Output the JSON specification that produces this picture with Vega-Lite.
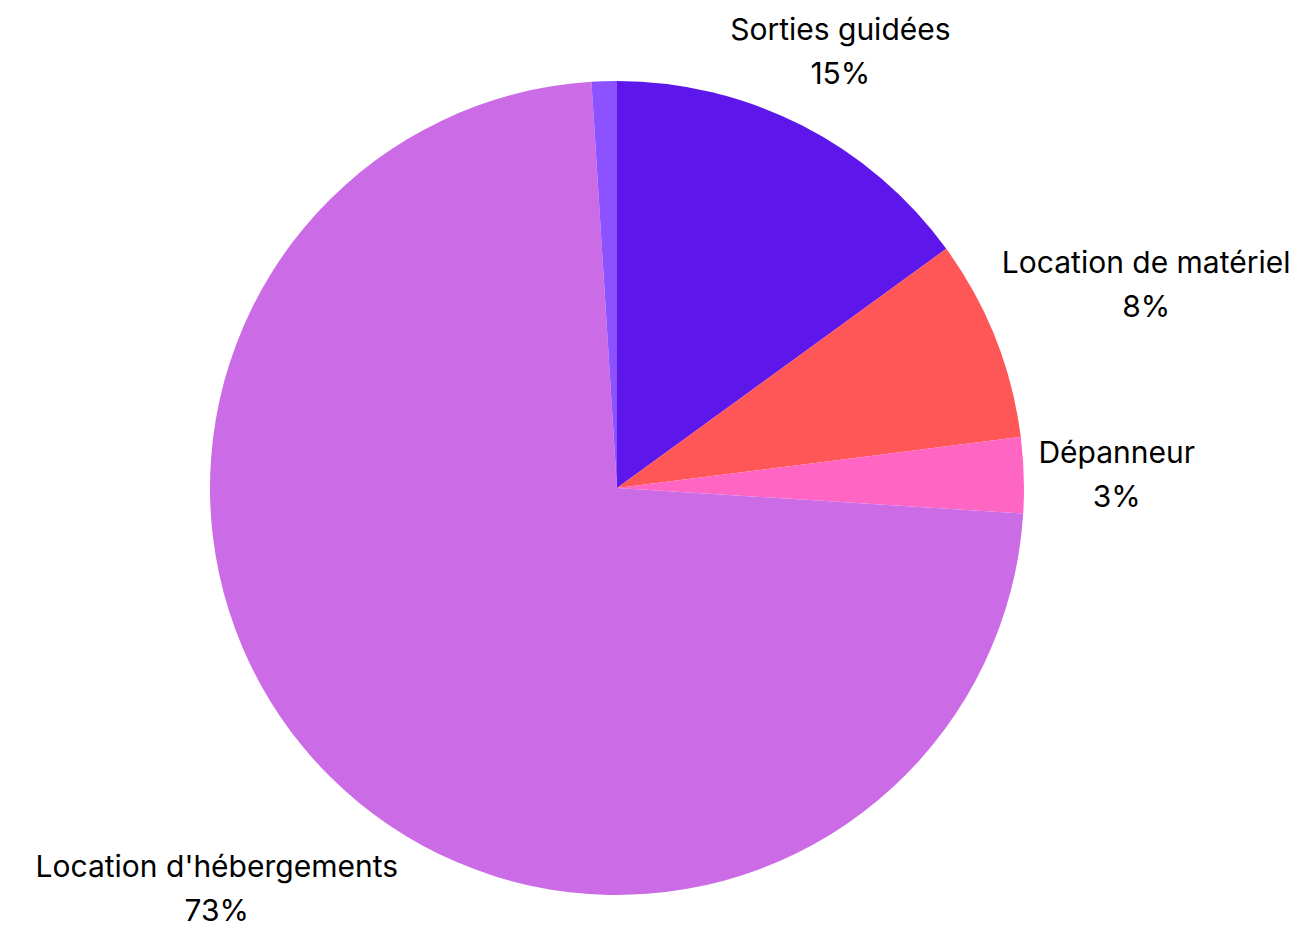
{
  "$schema": "https://vega.github.io/schema/vega-lite/v6.json",
  "autosize": {"type": "none"},
  "padding": {"left": 0, "top": 50, "right": 81, "bottom": 0},
  "width": 1234,
  "height": 876,
  "background": "#ffffff",
  "view": {"stroke": null},
  "data": {
    "values": [
      {"category": "Sorties guidées", "value": 15, "rank": 1},
      {"category": "Location de matériel", "value": 8, "rank": 2},
      {"category": "Dépanneur", "value": 3, "rank": 3},
      {"category": "Location d'hébergements", "value": 73, "rank": 4},
      {"category": "Autre", "value": 1, "rank": 5}
    ]
  },
  "transform": [
    {"calculate": "[datum.category, datum.value + '%']", "as": "label"}
  ],
  "encoding": {
    "theta": {"field": "value", "type": "quantitative", "stack": true},
    "order": {"field": "rank", "type": "quantitative"}
  },
  "layer": [
    {
      "mark": {"type": "arc", "outerRadius": 407, "stroke": null, "clip": false},
      "encoding": {
        "color": {
          "field": "category",
          "type": "nominal",
          "legend": null,
          "scale": {
            "domain": ["Sorties guidées", "Location de matériel", "Dépanneur", "Location d'hébergements", "Autre"],
            "range": ["#5E17EB", "#FF5757", "#FF66C4", "#CB6CE6", "#8C52FF"]
          }
        }
      }
    },
    {
      "mark": {"type": "text", "radius": 492, "dy": -19, "font": "Inter", "fontSize": 30, "lineHeight": 44, "color": "#000000", "align": "center", "baseline": "middle", "clip": false},
      "encoding": {
        "text": {"condition": {"test": "datum.category === 'Sorties guidées'", "field": "label"}, "value": ""}
      }
    },
    {
      "mark": {"type": "text", "radius": 567, "dx": 2, "dy": -15, "font": "Inter", "fontSize": 30, "lineHeight": 44, "color": "#000000", "align": "center", "baseline": "middle", "clip": false},
      "encoding": {
        "text": {"condition": {"test": "datum.category === 'Location de matériel'", "field": "label"}, "value": ""}
      }
    },
    {
      "mark": {"type": "text", "radius": 500, "dy": -18, "font": "Inter", "fontSize": 30, "lineHeight": 44, "color": "#000000", "align": "center", "baseline": "middle", "clip": false},
      "encoding": {
        "text": {"condition": {"test": "datum.category === 'Dépanneur'", "field": "label"}, "value": ""}
      }
    },
    {
      "mark": {"type": "text", "radius": 566, "dy": -20, "font": "Inter", "fontSize": 30, "lineHeight": 44, "color": "#000000", "align": "center", "baseline": "middle", "clip": false},
      "encoding": {
        "text": {"condition": {"test": "datum.category === \"Location d'hébergements\"", "field": "label"}, "value": ""}
      }
    }
  ]
}
